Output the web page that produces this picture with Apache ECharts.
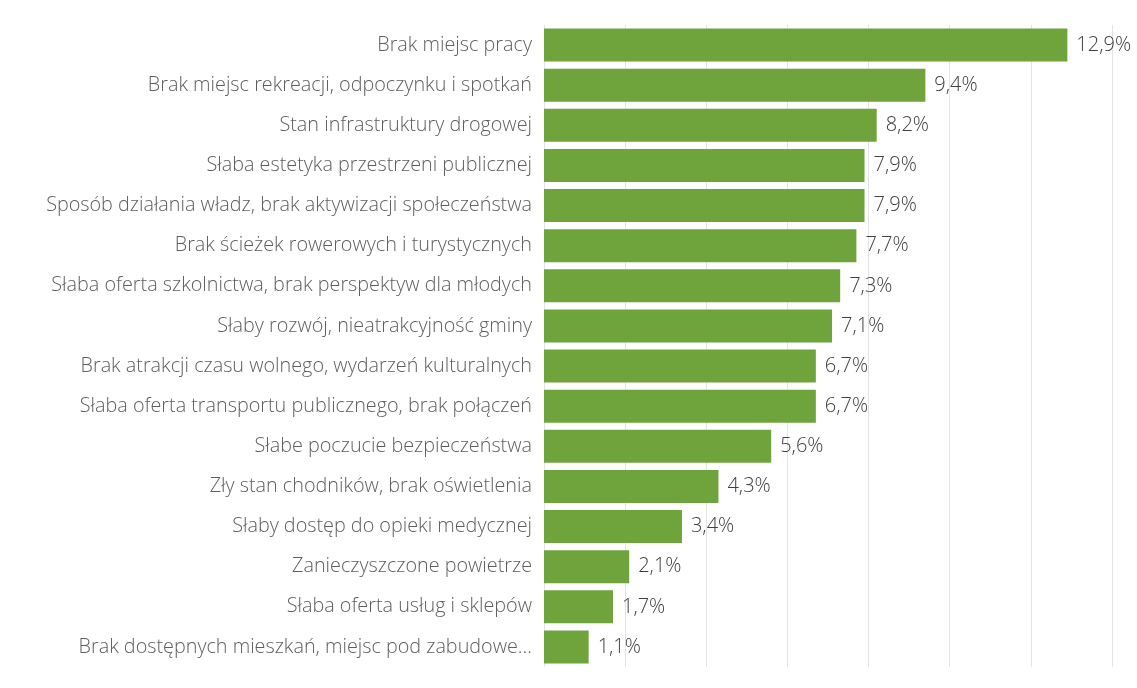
<!DOCTYPE html>
<html><head><meta charset="utf-8">
<script src="https://cdn.jsdelivr.net/npm/echarts@6/dist/echarts.min.js"></script>
<style>html,body{margin:0;padding:0;background:#fff}#c{width:1137px;height:688px}</style>
</head><body><div id="c"></div>
<script>
const categories = [
  "Brak miejsc pracy",
  "Brak miejsc rekreacji, odpoczynku i spotkań",
  "Stan infrastruktury drogowej",
  "Słaba estetyka przestrzeni publicznej",
  "Sposób działania władz, brak aktywizacji społeczeństwa",
  "Brak ścieżek rowerowych i turystycznych",
  "Słaba oferta szkolnictwa, brak perspektyw dla młodych",
  "Słaby rozwój, nieatrakcyjność gminy",
  "Brak atrakcji czasu wolnego, wydarzeń kulturalnych",
  "Słaba oferta transportu publicznego, brak połączeń",
  "Słabe poczucie bezpieczeństwa",
  "Zły stan chodników, brak oświetlenia",
  "Słaby dostęp do opieki medycznej",
  "Zanieczyszczone powietrze",
  "Słaba oferta usług i sklepów",
  "Brak dostępnych mieszkań, miejsc pod zabudowe..."
];
const values = [12.9, 9.4, 8.2, 7.9, 7.9, 7.7, 7.3, 7.1, 6.7, 6.7, 5.6, 4.3, 3.4, 2.1, 1.7, 1.1];

const chart = echarts.init(document.getElementById('c'));
chart.setOption({
  animation: false,
  grid: {left: 544, right: 25, top: 25, bottom: 21, containLabel: false},
  xAxis: {
    type: 'value', min: 0, max: 14, interval: 2,
    axisLabel: {show: false}, axisLine: {show: false}, axisTick: {show: false},
    splitLine: {show: true, lineStyle: {color: '#e4e4e4', width: 1}}
  },
  yAxis: {
    type: 'category', inverse: true, data: categories,
    axisLine: {show: false}, axisTick: {show: false},
    axisLabel: {color: '#5e5e5e', fontSize: 19.8, fontFamily: 'Open Sans', fontWeight: 300, margin: 12}
  },
  series: [{
    type: 'bar', data: values, barCategoryGap: '18%',
    itemStyle: {color: '#6fa33c'},
    label: {show: true, position: 'right', distance: 9, color: '#404040', fontSize: 20,
      fontFamily: 'Open Sans', fontWeight: 300,
      formatter: p => p.value.toFixed(1).replace('.', ',') + '%'}
  }]
});
</script></body></html>
